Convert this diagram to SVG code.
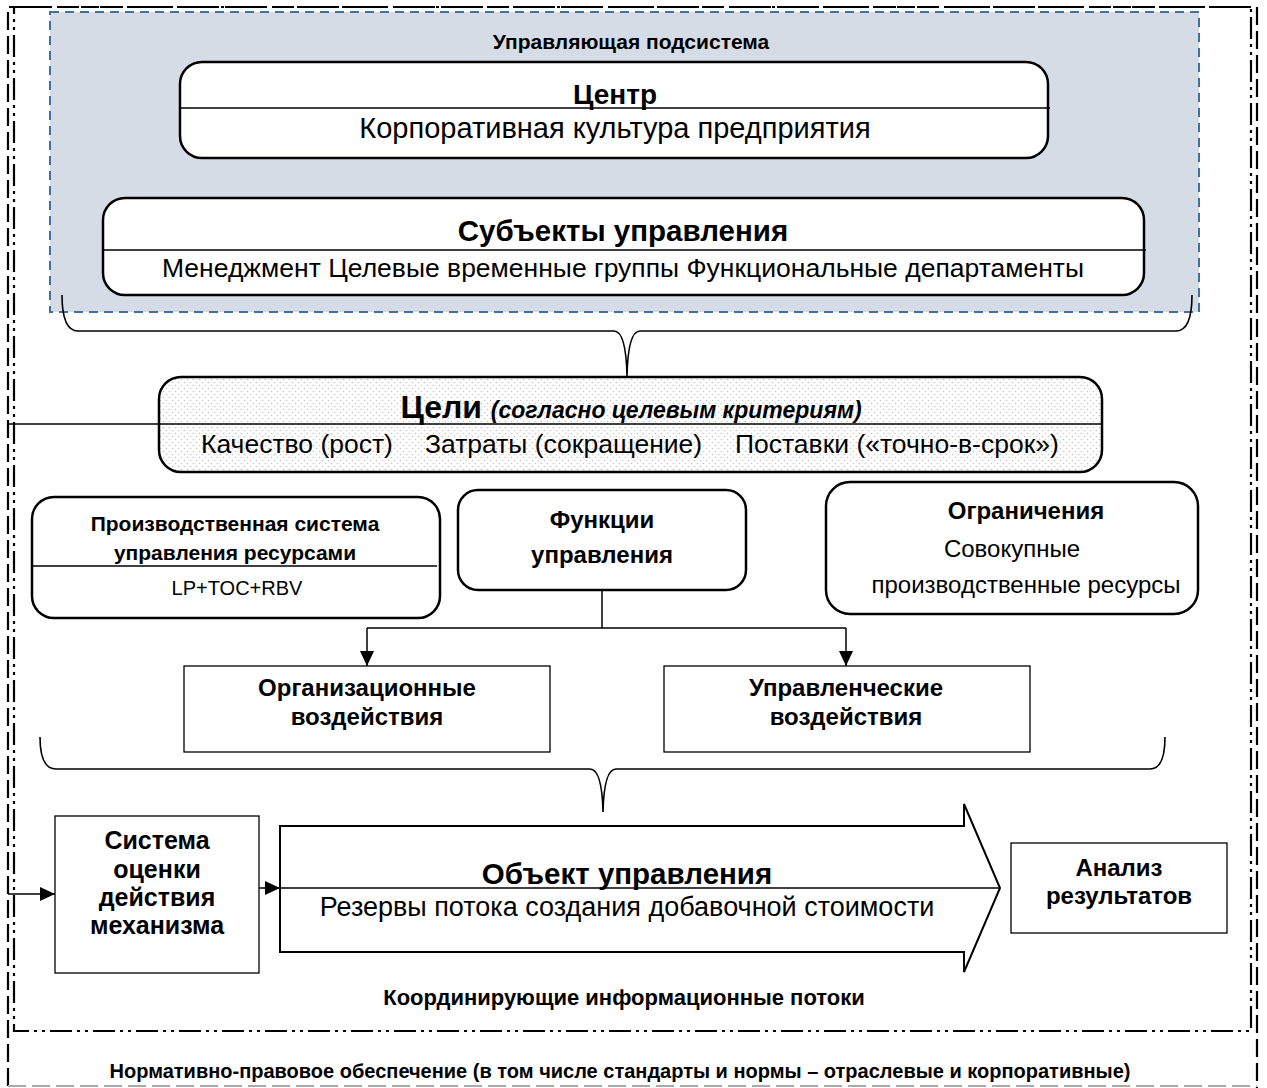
<svg xmlns="http://www.w3.org/2000/svg" width="1267" height="1088" viewBox="0 0 1267 1088">
<defs>
<pattern id="dots" width="6" height="6" patternUnits="userSpaceOnUse">
<rect width="6" height="6" fill="#ffffff"/>
<circle cx="1.5" cy="1.5" r="0.8" fill="#c8c8c8"/>
<circle cx="4.5" cy="4.5" r="0.8" fill="#c8c8c8"/>
</pattern>
<marker id="arr" markerWidth="16" markerHeight="14" refX="15" refY="7" orient="auto" markerUnits="userSpaceOnUse">
<path d="M0,0 L15,7 L0,14 Z" fill="#000"/>
</marker>
</defs>
<style>
text{font-family:"Liberation Sans",Arial,sans-serif;fill:#000}
.b{font-weight:bold}
.c{text-anchor:middle}
.box{fill:#fff;stroke:#000;stroke-width:2.5}
.sq{fill:#fff;stroke:#000;stroke-width:1.3}
.ln{stroke:#000;stroke-width:1.5;fill:none}
.br{stroke:#000;stroke-width:1.6;fill:none}
</style>
<rect width="1267" height="1088" fill="#fff"/>

<g id="frame-normative">
<path d="M8,1086 L8,7 L1257,7 L1257,1088" fill="none" stroke="#000" stroke-width="2.2" stroke-dasharray="18 6"/>
<line x1="8" y1="1086" x2="1257" y2="1086" stroke="#aaa" stroke-width="2" stroke-dasharray="18 6"/>
<text class="b c" x="620" y="1078" font-size="20">Нормативно-правовое обеспечение (в том числе стандарты и нормы – отраслевые и корпоративные)</text>
</g>

<g id="frame-coordinating">
<rect x="14" y="7" width="1237" height="1024" fill="none" stroke="#000" stroke-width="2.2" stroke-dasharray="22 5 3 5 3 5"/>
<text class="b c" x="624" y="1005" font-size="22">Координирующие информационные потоки</text>
</g>

<g id="control-subsystem">
<rect x="50" y="12" width="1149" height="300" fill="#d6dce5" stroke="#41719c" stroke-width="2" stroke-dasharray="9 6"/>
<text class="b c" x="631" y="49" font-size="21">Управляющая подсистема</text>
</g>

<g id="center">
<rect class="box" x="180" y="62" width="868" height="96" rx="22"/>
<line x1="180" y1="108" x2="1050" y2="108" stroke="#000" stroke-width="1.5"/>
<text class="b c" x="615" y="104" font-size="28">Центр</text>
<text class="c" x="615" y="138" font-size="29">Корпоративная культура предприятия</text>
</g>

<g id="subjects">
<rect class="box" x="103" y="198" width="1041" height="97" rx="22"/>
<line x1="103" y1="250" x2="1146" y2="250" stroke="#000" stroke-width="1.5"/>
<text class="b c" x="623" y="241" font-size="29.5">Субъекты управления</text>
<text class="c" x="623" y="277" font-size="26.5">Менеджмент Целевые временные группы Функциональные департаменты</text>
</g>

<g id="goals">
<rect x="159" y="377" width="943" height="95" rx="22" fill="url(#dots)" stroke="#000" stroke-width="2.5"/>
<line x1="8" y1="424" x2="1102" y2="424" stroke="#000" stroke-width="1.5"/>
<text class="c" x="631" y="418"><tspan class="b" font-size="32">Цели </tspan><tspan class="b" font-size="23" font-style="italic">(согласно целевым критериям)</tspan></text>
<text x="201" y="453" font-size="26.5">Качество (рост)</text>
<text x="425" y="453" font-size="26.5">Затраты (сокращение)</text>
<text x="735" y="453" font-size="26.5">Поставки («точно-в-срок»)</text>
</g>

<g id="production-system">
<rect class="box" x="32" y="497" width="408" height="121" rx="22"/>
<line x1="32" y1="566" x2="437" y2="566" stroke="#000" stroke-width="1.5"/>
<text class="b c" x="235" y="531" font-size="21">Производственная система</text>
<text class="b c" x="235" y="560" font-size="21">управления ресурсами</text>
<text class="c" x="237" y="595" font-size="20">LP+TOC+RBV</text>
</g>

<g id="functions">
<rect class="box" x="458" y="490" width="288" height="100" rx="20"/>
<text class="b c" x="602" y="528" font-size="24">Функции</text>
<text class="b c" x="602" y="563" font-size="24">управления</text>
</g>

<g id="constraints">
<rect class="box" x="826" y="482" width="372" height="132" rx="24"/>
<text class="b c" x="1026" y="519" font-size="24">Ограничения</text>
<text class="c" x="1012" y="557" font-size="24">Совокупные</text>
<text class="c" x="1026" y="593" font-size="24">производственные ресурсы</text>
</g>

<g id="org-influence">
<rect class="sq" x="184" y="666" width="366" height="86"/>
<text class="b c" x="367" y="696" font-size="24">Организационные</text>
<text class="b c" x="367" y="725" font-size="24">воздействия</text>
</g>

<g id="mgmt-influence">
<rect class="sq" x="664" y="666" width="366" height="86"/>
<text class="b c" x="846" y="696" font-size="24">Управленческие</text>
<text class="b c" x="846" y="725" font-size="24">воздействия</text>
</g>

<g id="evaluation-system">
<rect class="sq" x="55" y="816" width="204" height="157"/>
<text class="b c" x="157" y="849" font-size="25">Система</text>
<text class="b c" x="157" y="878" font-size="25">оценки</text>
<text class="b c" x="157" y="906" font-size="25">действия</text>
<text class="b c" x="157" y="934" font-size="25">механизма</text>
</g>

<g id="control-object">
<path d="M280,826 L964,826 L964,804 L1000,888 L964,972 L964,952 L280,952 Z" fill="#fff" stroke="#000" stroke-width="2"/>
<line x1="280" y1="888" x2="1000" y2="888" stroke="#000" stroke-width="1.5"/>
<text class="b c" x="627" y="884" font-size="29.5">Объект управления</text>
<text class="c" x="627" y="916" font-size="27">Резервы потока создания добавочной стоимости</text>
</g>

<g id="results-analysis">
<rect class="sq" x="1011" y="843" width="216" height="90"/>
<text class="b c" x="1119" y="876" font-size="24">Анализ</text>
<text class="b c" x="1119" y="904" font-size="24">результатов</text>
</g>

<g id="connectors">
<path class="br" d="M62,295 Q62,331 78,331 L614,331 Q626,331 627,376 Q628,331 640,331 L1176,331 Q1192,331 1192,295"/>
<path class="ln" d="M602,590 L602,628 M367,628 L846,628"/>
<line class="ln" x1="367" y1="628" x2="367" y2="666" marker-end="url(#arr)"/>
<line class="ln" x1="846" y1="628" x2="846" y2="666" marker-end="url(#arr)"/>
<path class="br" d="M40,737 Q40,769 56,769 L590,769 Q602,769 603,812 Q604,769 616,769 L1150,769 Q1165,769 1165,737"/>
<line class="ln" x1="8" y1="894" x2="55" y2="894" marker-end="url(#arr)"/>
<line class="ln" x1="259" y1="888" x2="280" y2="888" marker-end="url(#arr)"/>
</g>
</svg>
